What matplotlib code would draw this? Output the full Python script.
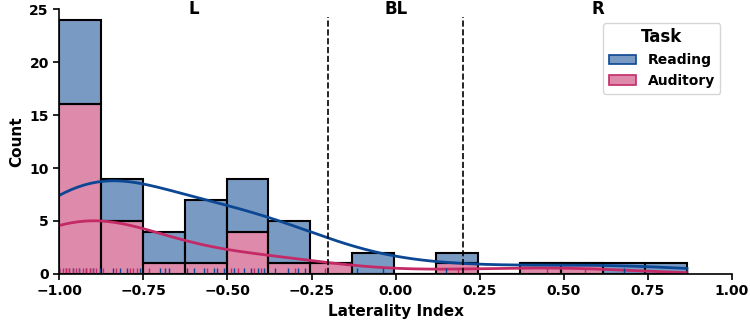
import numpy as np
import pandas as pd
import matplotlib
matplotlib.use("Agg")
import matplotlib.pyplot as plt
import seaborn as sns

reading_li = [-1.0, -1.0, -0.98, -0.96, -0.94, -0.92, -0.90, -0.88,
              -0.84, -0.82, -0.80, -0.76,
              -0.70, -0.685, -0.673,
              -0.62, -0.60, -0.57, -0.54, -0.53, -0.51,
              -0.48, -0.45, -0.43, -0.41, -0.39,
              -0.36, -0.32, -0.29, -0.27,
              -0.114, -0.037,
              0.15,
              0.68, 0.866]
auditory_li = [-1.0, -1.0, -1.0, -0.99, -0.98, -0.97, -0.97, -0.96,
               -0.95, -0.94, -0.93, -0.92, -0.91, -0.91, -0.90, -0.89,
               -0.87, -0.83, -0.79, -0.78, -0.77,
               -0.733,
               -0.56,
               -0.49, -0.47, -0.42, -0.40,
               -0.30,
               -0.21,
               0.186,
               0.45, 0.563]

tasks = ["Reading", "Auditory"]
task_colors = {"Reading": "#0b4793", "Auditory": "#c42a66"}
cutoffs = [-0.2, 0.2]
regions = ["L", "BL", "R"]
region_x = [-0.6, 0.0, 0.6]

df = pd.DataFrame({
    "Laterality Index": reading_li + auditory_li,
    "Task": ["Reading"] * len(reading_li) + ["Auditory"] * len(auditory_li),
})

fig, ax = plt.subplots(figsize=(7.5, 3.28), dpi=100)

sns.histplot(data=df, x="Laterality Index", hue="Task", hue_order=tasks,
             palette=task_colors, multiple="stack", bins=15,
             binrange=(min(df["Laterality Index"]), max(df["Laterality Index"])),
             kde=True, alpha=0.55, edgecolor="black", linewidth=1.5,
             line_kws={"linewidth": 2}, ax=ax)
sns.rugplot(data=df, x="Laterality Index", hue="Task", hue_order=tasks,
            palette=task_colors, height=0.022, linewidth=1, legend=False, ax=ax)

for c in cutoffs:
    ax.axvline(c, ymax=0.97, color="black", linestyle="--", linewidth=1.2)
for lab, x in zip(regions, region_x):
    ax.text(x, 25, lab, ha="center", va="center", fontsize=12, fontweight="bold")

ax.set_xlim(-1, 1)
ax.set_ylim(0, 25)
ax.set_xlabel("Laterality Index", fontsize=11, fontweight="bold")
ax.set_ylabel("Count", fontsize=11, fontweight="bold")
for lbl in ax.get_xticklabels() + ax.get_yticklabels():
    lbl.set_fontweight("bold")
    lbl.set_fontsize(10)
ax.tick_params(width=1.2, length=4)
sns.despine(ax=ax)
for s in ["left", "bottom"]:
    ax.spines[s].set_linewidth(1.2)

sns.move_legend(ax, "upper right", bbox_to_anchor=(0.993, 0.975),
                title="Task", fontsize=10,
                title_fontproperties={"weight": "bold", "size": 12})
leg = ax.get_legend()
for t in leg.get_texts():
    t.set_fontweight("bold")
for h, name in zip(leg.legend_handles, tasks):
    h.set_edgecolor(task_colors[name])
    h.set_linewidth(1.2)

plt.subplots_adjust(left=0.079, right=0.976, bottom=0.165, top=0.972)
plt.savefig("out.png")
